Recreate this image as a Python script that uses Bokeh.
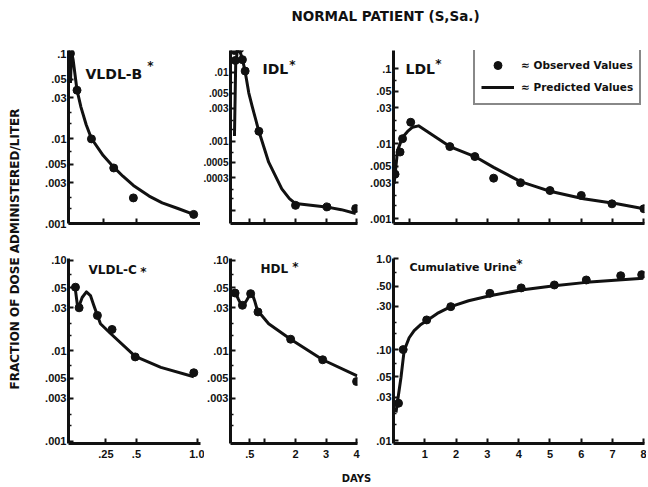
import math
from bokeh.plotting import figure
from bokeh.layouts import row, column
from bokeh.models import Range1d, FixedTicker, Label, Legend, LegendItem
from bokeh.embed import file_html
from bokeh.resources import INLINE

# ---------------- data (days, fraction of dose / liter) ----------------
vldlb_obs_t = [0.0, 0.05, 0.16, 0.33, 0.48, 0.94]
vldlb_obs_v = [0.1, 0.037, 0.0099, 0.0045, 0.0020, 0.00128]
vldlb_pred_t = [0.0, 0.008, 0.02, 0.05, 0.08, 0.12, 0.16, 0.25, 0.33, 0.4, 0.48, 0.6, 0.7, 0.82, 0.94]
vldlb_pred_v = [0.045, 0.105, 0.085, 0.037, 0.0234, 0.0145, 0.0100, 0.0063, 0.0046, 0.0036,
                0.0028, 0.0021, 0.00175, 0.0015, 0.00128]

idl_obs_t = [0.0, 0.03, 0.17, 0.26, 0.35, 0.8, 2.0, 3.03, 3.97]
idl_obs_v = [0.0206, 0.0148, 0.0218, 0.0152, 0.0104, 0.0014, 0.000119, 0.000113, 0.000107]
idl_pred_t = [0.0, 0.04, 0.1, 0.17, 0.26, 0.36, 0.47, 0.58, 0.8, 1.12, 1.55, 1.8, 2.0, 2.5, 3.0, 3.5, 3.97]
idl_pred_v = [0.0012, 0.013, 0.0215, 0.0205, 0.0157, 0.0096, 0.0050, 0.0032, 0.0014, 0.0005,
              0.000206, 0.000149, 0.000126, 0.000119, 0.000113, 0.000103, 0.0000906]

ldl_obs_t = [0.05, 0.21, 0.29, 0.55, 1.8, 2.6, 3.2, 4.06, 5.0, 6.0, 6.98, 8.0]
ldl_obs_v = [0.0039, 0.0077, 0.0116, 0.0192, 0.0091, 0.0067, 0.00345, 0.0030, 0.00236, 0.00203, 0.00157, 0.00135]
ldl_pred_t = [0.02, 0.13, 0.29, 0.45, 0.61, 0.8, 1.8, 2.6, 3.2, 4.06, 4.5, 5.0, 6.07, 7.14, 8.0]
ldl_pred_v = [0.0029, 0.0081, 0.0121, 0.0145, 0.0165, 0.0172, 0.0091, 0.0067, 0.0048, 0.0031,
              0.0027, 0.00231, 0.00183, 0.00157, 0.00135]

vldlc_obs_t = [0.0, 0.03, 0.18, 0.30, 0.49, 0.97]
vldlc_obs_v = [0.0507, 0.030, 0.0247, 0.0173, 0.0086, 0.00575]
vldlc_pred_t = [0.0, 0.02, 0.055, 0.09, 0.123, 0.15, 0.18, 0.205, 0.29, 0.49, 0.70, 0.97]
vldlc_pred_v = [0.047, 0.029, 0.039, 0.045, 0.041, 0.032, 0.0247, 0.020, 0.0155, 0.0087, 0.0066, 0.0052]

hdl_obs_t = [0.02, 0.26, 0.53, 0.77, 1.84, 2.89, 4.0]
hdl_obs_v = [0.0437, 0.032, 0.043, 0.027, 0.0135, 0.008, 0.0046]
hdl_pred_t = [0.0, 0.13, 0.26, 0.4, 0.56, 0.66, 0.75, 1.12, 1.84, 2.89, 4.02]
hdl_pred_v = [0.0468, 0.0372, 0.0305, 0.0363, 0.0449, 0.036, 0.0282, 0.020, 0.0135, 0.008, 0.0053]

urine_obs_t = [0.16, 0.31, 1.06, 1.83, 3.08, 4.08, 5.14, 6.16, 7.26, 7.93]
urine_obs_v = [0.0257, 0.1, 0.212, 0.297, 0.416, 0.477, 0.514, 0.583, 0.65, 0.667]
urine_pred_t = [0.08, 0.11, 0.24, 0.34, 0.5, 0.66, 0.85, 1.06, 1.4, 1.83, 2.4, 3.08, 4.08, 5.14, 6.16, 7.98]
urine_pred_v = [0.0203, 0.0243, 0.0496, 0.0975, 0.135, 0.162, 0.186, 0.208, 0.25, 0.297, 0.345, 0.392,
                0.453, 0.505, 0.549, 0.608]

# tick values and labels
ticks_short_x = [0.25, 0.5, 1.0]
labels_short_x = [".25", ".5", "1.0"]
ticks_mid_x = [0.5, 1, 2, 3, 4]
labels_mid_x = [".5", "", "2", "3", "4"]
ticks_long_top_x = [0.5, 2, 3, 4, 5, 6, 7, 8]
ticks_long_x = [1, 2, 3, 4, 5, 6, 7, 8]
labels_long_x = ["1", "2", "3", "4", "5", "6", "7", "8"]

ticks_y_a = [0.1, 0.05, 0.03, 0.01, 0.005, 0.003, 0.001]
labels_y_a = [".1", ".05", ".03", ".01", ".005", ".003", ".001"]
labels_y_c = [".10", ".05", ".03", ".01", ".005", ".003", ".001"]
minor_y_a = [0.07, 0.02, 0.015, 0.007, 0.002, 0.0015]
ticks_y_b = [0.01, 0.005, 0.003, 0.001, 0.0005, 0.0003, 0.0001]
labels_y_b = [".01", ".005", ".003", ".001", ".0005", ".0003", ""]
minor_y_b = [0.007, 0.002, 0.0015, 0.0007, 0.0002, 0.00015]
ticks_y_d = [0.1, 0.05, 0.03, 0.01, 0.005, 0.003]
labels_y_d = [".10", ".05", ".03", ".01", ".005", ".003"]
ticks_y_e = [1.0, 0.5, 0.3, 0.1, 0.05, 0.03, 0.01]
labels_y_e = ["1.0", ".50", ".30", ".10", ".05", ".03", ".01"]
minor_y_e = [0.7, 0.2, 0.15, 0.07, 0.02, 0.015]

INK = "#111111"
TICK_FONT = "Liberation Sans"
TEXT_FONT = "DejaVu Sans"


def panel(w, h, left, right, top, bottom, xr, yr, xticks, xlabels, yticks, ylabels, yminor,
          ysize="11px"):
    p = figure(width=w, height=h, x_range=Range1d(*xr), y_range=Range1d(*yr),
               y_axis_type="log", output_backend="svg", toolbar_location=None,
               min_border_left=left, min_border_right=right,
               min_border_top=top, min_border_bottom=bottom)
    p.grid.visible = False
    p.outline_line_color = None
    p.background_fill_color = "white"
    p.border_fill_color = "white"
    xa = p.xaxis[0]
    ya = p.yaxis[0]
    xa.ticker = FixedTicker(ticks=xticks, minor_ticks=[])
    xa.major_label_overrides = {t: l for t, l in zip(xticks, xlabels)}
    ya.ticker = FixedTicker(ticks=yticks, minor_ticks=yminor)
    ya.major_label_overrides = {t: l for t, l in zip(yticks, ylabels)}
    for ax in (xa, ya):
        ax.axis_line_width = 3
        ax.axis_line_color = INK
        ax.major_tick_in = 5
        ax.major_tick_out = 0
        ax.minor_tick_in = 3
        ax.minor_tick_out = 0
        ax.major_tick_line_width = 2
        ax.minor_tick_line_width = 1.5
        ax.major_tick_line_color = INK
        ax.minor_tick_line_color = INK
        ax.major_label_text_font = TICK_FONT
        ax.major_label_text_font_style = "bold"
        ax.major_label_text_font_size = "11px"
        ax.major_label_text_color = INK
    ya.major_label_text_font_size = ysize
    xa.major_label_standoff = 6
    ya.major_label_standoff = 2
    return p


def draw(p, ot, ov, pt, pv):
    ln = p.line(pt, pv, line_width=3, line_color=INK, line_join="round")
    dots = p.scatter(ot, ov, marker="circle", size=8, fill_color=INK, line_color=INK)
    return dots, ln


def tag(p, x, y, text, sx, sy, size="12px"):
    p.add_layout(Label(x=x, y=y, x_units="screen", y_units="screen", text=text,
                       text_font=TEXT_FONT, text_font_style="bold", text_font_size=size,
                       text_color=INK, text_baseline="middle", text_align="left"))
    p.add_layout(Label(x=sx, y=sy, x_units="screen", y_units="screen", text="*",
                       text_font=TEXT_FONT, text_font_style="bold", text_font_size="12px",
                       text_color=INK, text_baseline="middle", text_align="center"))


# ---------------- top row (frames: y 50..223) ----------------
p1 = panel(164, 211, 32, 0, 8, 30, (-0.015, 0.992), (0.001, 0.1085),
           ticks_short_x, [""] * 3, ticks_y_a, labels_y_a, minor_y_a)
draw(p1, vldlb_obs_t, vldlb_obs_v, vldlb_pred_t, vldlb_pred_v)
tag(p1, 17, 150, "VLDL-B", 82, 157.5, size="14px")

p2 = panel(161, 211, 28, 4, 8, 28, (-0.13, 4.03), (6.5e-5, 0.0206),
           ticks_mid_x, [""] * 5, ticks_y_b, labels_y_b, minor_y_b, ysize="10px")
draw(p2, idl_obs_t, idl_obs_v, idl_pred_t, idl_pred_v)
tag(p2, 32, 155, "IDL", 62, 158.5, size="14px")

p3 = panel(285, 211, 32, 2, 8, 30, (0.0, 8.02), (0.000858, 0.1738),
           ticks_long_top_x, [""] * 8, ticks_y_a, labels_y_a, minor_y_a)
ldl_dots, ldl_line = draw(p3, ldl_obs_t, ldl_obs_v, ldl_pred_t, ldl_pred_v)
tag(p3, 12, 155, "LDL", 45, 159.5, size="14px")
legend = Legend(items=[LegendItem(label="≈ Observed Values", renderers=[ldl_dots]),
                       LegendItem(label="≈ Predicted Values", renderers=[ldl_line])],
                location=(80, 118), orientation="vertical",
                border_line_color=INK, border_line_width=2,
                background_fill_color="white", background_fill_alpha=1.0,
                padding=6, spacing=2, margin=0, glyph_width=33, glyph_height=20,
                label_standoff=7, label_height=20, label_text_font=TEXT_FONT,
                label_text_font_style="bold", label_text_font_size="10.5px",
                label_text_color=INK)
p3.add_layout(legend)

# ---------------- bottom row (frames: y 258..443) ----------------
p4 = panel(168, 210, 32, 4, 5, 20, (-0.057, 1.025), (0.00095, 0.1052),
           ticks_short_x, labels_short_x, ticks_y_a, labels_y_c, minor_y_a)
draw(p4, vldlc_obs_t, vldlc_obs_v, vldlc_pred_t, vldlc_pred_v)
tag(p4, 20, 174, "VLDL-C", 75, 172)

p5 = panel(157, 210, 24, 4, 5, 20, (-0.13, 4.03), (0.00095, 0.1052),
           ticks_mid_x, labels_mid_x, ticks_y_d, labels_y_d, minor_y_a)
draw(p5, hdl_obs_t, hdl_obs_v, hdl_pred_t, hdl_pred_v)
tag(p5, 30, 175, "HDL", 65, 176.5)

p6 = panel(285, 210, 32, 2, 5, 20, (0.0, 8.02), (0.00927, 1.005),
           ticks_long_x, labels_long_x, ticks_y_e, labels_y_e, minor_y_e)
draw(p6, urine_obs_t, urine_obs_v, urine_pred_t, urine_pred_v)
tag(p6, 16, 176, "Cumulative Urine", 126, 179.5, size="11px")


# ---------------- text strips ----------------
def strip(w, h):
    f = figure(width=w, height=h, x_axis_location=None, y_axis_location=None,
               min_border=0, toolbar_location=None, output_backend="svg",
               x_range=Range1d(0, w), y_range=Range1d(0, h))
    f.grid.visible = False
    f.outline_line_color = None
    f.background_fill_color = "white"
    f.border_fill_color = "white"
    return f


title_fig = strip(646, 42)
title_fig.add_layout(Label(x=385, y=27, x_units="screen", y_units="screen",
                           text="NORMAL PATIENT (S,Sa.)", text_font=TEXT_FONT,
                           text_font_style="bold", text_font_size="13.5px", text_color=INK,
                           text_align="center", text_baseline="middle"))

ylab_fig = strip(36, 421)
ylab_fig.add_layout(Label(x=14, y=214.5, x_units="screen", y_units="screen",
                          text="FRACTION OF DOSE ADMINISTERED/LITER", angle=math.pi / 2,
                          text_font=TEXT_FONT, text_font_style="bold", text_font_size="12px",
                          text_color=INK, text_align="center", text_baseline="middle"))

days_fig = strip(646, 22)
days_fig.add_layout(Label(x=356, y=7, x_units="screen", y_units="screen", text="DAYS",
                          text_font=TEXT_FONT, text_font_style="bold", text_font_size="10px",
                          text_color=INK, text_align="center", text_baseline="middle"))

grid = column(row(p1, p2, p3), row(p4, p5, p6))
layout = column(title_fig, row(ylab_fig, grid), days_fig)

open("out.html", "w").write(file_html(layout, INLINE))
